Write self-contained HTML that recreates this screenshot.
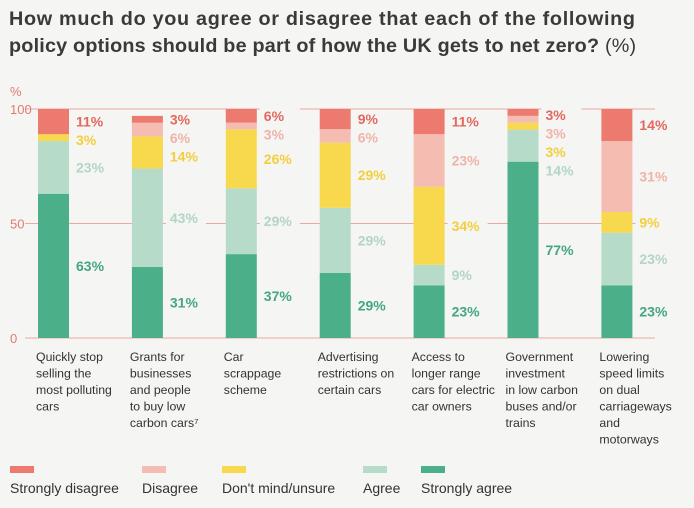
<!DOCTYPE html>
<html><head><meta charset="utf-8"><style>
body{margin:0;background:#f5f5f4;font-family:"Liberation Sans",sans-serif;}
#wrap{position:relative;width:694px;height:508px;overflow:hidden;background:#f5f5f4}
.title{position:absolute;left:9px;top:6px;font-size:19.8px;font-weight:bold;color:#3a3a3a;line-height:27px;white-space:nowrap}
.title span{font-weight:normal}
svg text{font-family:"Liberation Sans",sans-serif}
</style></head><body>
<div id="wrap">
<div class="title"><div style="letter-spacing:0.7px">How much do you agree or disagree that each of the following</div><div style="letter-spacing:0.2px">policy options should be part of how the UK gets to net zero? <span>(%)</span></div></div>
<svg id="chart" width="694" height="508" style="position:absolute;left:0;top:0"></svg>
</div>
<script>
const categories=[["Quickly stop","selling the","most polluting","cars"],["Grants for","businesses","and people","to buy low","carbon cars⁷"],["Car","scrappage","scheme"],["Advertising","restrictions on","certain cars"],["Access to","longer range","cars for electric","car owners"],["Government","investment","in low carbon","buses and/or","trains"],["Lowering","speed limits","on dual","carriageways","and","motorways"]];
const stronglyAgree=[63,31,37,29,23,77,23];
const agree=[23,43,29,29,9,14,23];
const dontMind=[3,14,26,29,34,3,9];
const disagree=[0,6,3,6,23,3,31];
const stronglyDisagree=[11,3,6,9,11,3,14];
const seriesNames=["Strongly agree","Agree","Don't mind/unsure","Disagree","Strongly disagree"];
const yTicks=[0,50,100];

const NS="http://www.w3.org/2000/svg";
const svg=document.getElementById('chart');
const fills=["#4bb08a","#b6dcc9","#f8d84c","#f5bdb2","#ec7a6f"];
const textCols=["#44a683","#b3d5c4","#f2cf3c","#f0b3a8","#e4685d"];
const y=v=>338-v*2.29;
const x=i=>38+i*93.9;
function el(t,a){const e=document.createElementNS(NS,t);for(const k in a)e.setAttribute(k,a[k]);svg.appendChild(e);return e;}
yTicks.forEach(t=>{
 const l=el('line',{x1:25,x2:655,y1:y(t),y2:y(t),stroke:'#eea89f','stroke-width':1});
 
 
 const tx=el('text',{x:10,y:y(t)+5,'font-size':13,fill:'#e07b70'});tx.textContent=t;
 
 
});
const pu=el('text',{x:10,y:96,'font-size':13,fill:'#e07b70'});pu.textContent='%';


const series=[stronglyAgree,agree,dontMind,disagree,stronglyDisagree];
categories.forEach((c,i)=>{
 let tot=0;series.forEach(s=>tot+=s[i]);
 const sc=tot>100?100/tot:1;
 let cum=0;const mids=[];
 series.forEach((s,k)=>{
  const v=s[i]*sc;
  const r=el('rect',{x:x(i),y:y(cum+v),width:31,height:v*2.29,fill:fills[k]});
  
  
  mids.push(y(cum+v/2));cum+=v;
 });
 let prev=-1e9;
 for(let k=4;k>=0;k--){
  const v=series[k][i];if(!v)continue;
  let yy=Math.max(mids[k]+5,prev+18.5,120);prev=yy;
  const bg=el('rect',{x:x(i)+34,y:yy-14,width:40,height:18,fill:'#f5f5f4'});
  
  
  const t=el('text',{x:x(i)+38,y:yy,'font-size':14,'font-weight':'bold',fill:textCols[k]});
  t.textContent=v+'%';
  
  
 }
 const ct=el('text',{x:x(i)-2,y:361,'font-size':12.3,fill:'#333'});
 
 
 c.forEach((ln,j)=>{const ts=document.createElementNS(NS,'tspan');ts.setAttribute('x',x(i)-2);ts.setAttribute('dy',j?16.5:0);ts.textContent=ln;ct.appendChild(ts);});
});
const legOrder=[4,3,2,1,0];const legX=[10,142,222,363,421];
legOrder.forEach((k,j)=>{
 const r=el('rect',{x:legX[j],y:466,width:24,height:7,fill:fills[k]});
 
 
 const t=el('text',{x:legX[j],y:493,'font-size':14,fill:'#333'});t.textContent=seriesNames[k];
 
 
});
</script>
</body></html>
